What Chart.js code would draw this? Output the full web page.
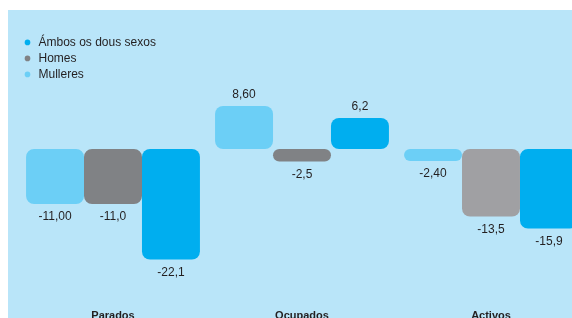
<!DOCTYPE html>
<html>
<head>
<meta charset="utf-8">
<script src="https://cdn.jsdelivr.net/npm/chart.js@4/dist/chart.umd.min.js"></script>
<style>
  html, body { margin: 0; padding: 0; background: #fff; overflow: hidden; width: 572px; height: 318px; }
  #panel { position: absolute; left: 8px; top: 10px; width: 600px; height: 312px; background: #b9e5f9; }
</style>
</head>
<body>
<div id="panel"><canvas id="variacion-chart" width="600" height="312"></canvas></div>
<script>
const categories = ["Parados", "Ocupados", "Activos"];
const mulleres = [-11.0, 8.6, -2.4];
const homes = [-11.0, -2.5, -13.5];
const ambos = [-22.1, 6.2, -15.9];

const colors = {
  mulleres: "#6ccff6",
  homes: ["#808285", "#808285", "#a0a0a3"],
  ambos: "#00aeef",
};

// etiquetas de valor debaixo/enriba de cada barra
const valueLabels = {
  id: "valueLabels",
  afterDatasetsDraw(chart) {
    const ctx = chart.ctx;
    ctx.save();
    ctx.font = "12px 'Liberation Sans', Arial, sans-serif";
    ctx.fillStyle = "#231f20";
    ctx.textAlign = "center";
    ctx.textBaseline = "middle";
    chart.data.datasets.forEach((ds, i) => {
      const meta = chart.getDatasetMeta(i);
      meta.data.forEach((bar, j) => {
        const v = ds.data[j];
        const text = v.toFixed(ds.decimals).replace(".", ",");
        const y = v >= 0 ? bar.y - 11.5 : bar.y + 13;
        ctx.fillText(text, bar.x, y);
      });
    });
    ctx.restore();
  },
};

const canvas = document.getElementById("variacion-chart");

new Chart(canvas, {
  type: "bar",
  data: {
    labels: categories,
    datasets: [
      { label: "Mulleres", data: mulleres, backgroundColor: colors.mulleres, decimals: 2 },
      { label: "Homes", data: homes, backgroundColor: colors.homes, decimals: 1 },
      { label: "Ámbos os dous sexos", data: ambos, backgroundColor: colors.ambos, decimals: 1 },
    ],
  },
  options: {
    responsive: false,
    animation: false,
    events: [],
    layout: { padding: { left: 10.5, right: 22.5, top: 21, bottom: 0 } },
    datasets: {
      bar: {
        borderRadius: 8,
        borderSkipped: false,
        barPercentage: 1,
        categoryPercentage: 0.92,
      },
    },
    scales: {
      x: {
        grid: { display: false, drawTicks: false },
        border: { display: false },
        ticks: {
          padding: 10,
          color: "#231f20",
          font: { family: "'Liberation Sans', Arial, sans-serif", size: 11, weight: "bold" },
        },
        afterFit(scale) { scale.height = 23; },
      },
      y: {
        display: false,
        min: -30,
        max: 23.6,
      },
    },
    plugins: {
      tooltip: { enabled: false },
      legend: {
        position: "chartArea",
        align: "start",
        reverse: true,
        // título baleiro só para baixar a lenda
        title: { display: true, text: "", font: { size: 12, lineHeight: 1.2 }, padding: { top: 0, bottom: 8 } },
        labels: {
          usePointStyle: true,
          pointStyle: "circle",
          boxWidth: 10,
          boxHeight: 4,
          padding: 4,
          color: "#231f20",
          font: { family: "'Liberation Sans', Arial, sans-serif", size: 12, lineHeight: 1.1 },
        },
      },
    },
  },
  plugins: [valueLabels],
});
</script>
</body>
</html>
